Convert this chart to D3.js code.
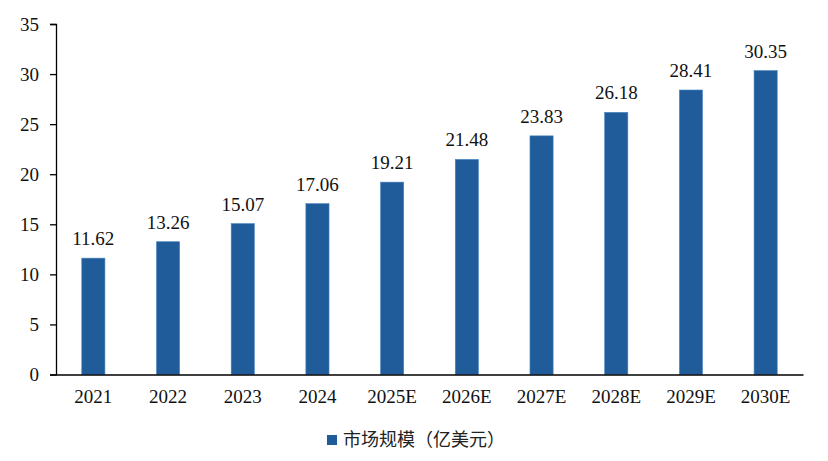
<!DOCTYPE html>
<html><head><meta charset="utf-8">
<script src="https://cdn.jsdelivr.net/npm/d3@7"></script>
<style>body{margin:0;background:#fff}</style>
</head><body>
<svg id="c" width="828" height="461"></svg>
<script>
const categories = ["2021","2022","2023","2024","2025E","2026E","2027E","2028E","2029E","2030E"];
const values = [11.62,13.26,15.07,17.06,19.21,21.48,23.83,26.18,28.41,30.35];
const yTicks = [0,5,10,15,20,25,30,35];
const seriesName = "市场规模（亿美元）";

const svg = d3.select("#c");
const m = {l:56, r:25, t:24, b:86.5};
const W = 828, H = 461;
const x = d3.scaleBand().domain(categories).range([m.l, W-m.r]).paddingInner(0.69).paddingOuter(0.345);
const y = d3.scaleLinear().domain([0,35]).range([H-m.b, m.t]);
const color = "#1f5c99";
const serif = "'Liberation Serif','Times New Roman',serif";
const fs = 19;

// bars
svg.append("g").selectAll("rect").data(values).join("rect")
  .attr("x",(d,i)=>x(categories[i])).attr("width",x.bandwidth())
  .attr("y",d=>y(d)).attr("height",d=>y(0)-y(d))
  .attr("fill",color).attr("stroke","#4a86c0").attr("stroke-width",0.6);

// labels
svg.append("g").selectAll("text").data(values).join("text")
  .attr("x",(d,i)=>x(categories[i])+x.bandwidth()/2).attr("y",d=>y(d)-13)
  .attr("text-anchor","middle").attr("font-family",serif).attr("font-size",fs).attr("fill","#111")
  .text(d=>d.toFixed(2));

// y axis
const ya = svg.append("g").attr("transform",`translate(${m.l},0)`)
  .call(d3.axisLeft(y).tickValues(yTicks).tickSize(6).tickPadding(11));
ya.select(".domain").attr("stroke","#000").attr("stroke-width",1.3);
ya.selectAll(".tick line").attr("stroke","#000").attr("stroke-width",1.3);
ya.selectAll("text").attr("font-family",serif).attr("font-size",fs).attr("fill","#111");

// x axis
const xa = svg.append("g").attr("transform",`translate(0,${y(0)})`)
  .call(d3.axisBottom(x).tickSize(0).tickPadding(15).tickSizeOuter(0));
xa.select(".domain").attr("stroke","#000").attr("stroke-width",1.3);
xa.selectAll("text").attr("font-family",serif).attr("font-size",fs).attr("fill","#111");

// legend
const lg = svg.append("g").attr("transform","translate(327,435)");
lg.append("rect").attr("width",10).attr("height",10).attr("fill",color);
lg.append("text").attr("x",16).attr("y",5).attr("dy","0.36em")
  .attr("font-family","'Noto Sans CJK SC',sans-serif").attr("font-size",18).attr("fill","#222")
  .text(seriesName);
</script>
</body></html>
